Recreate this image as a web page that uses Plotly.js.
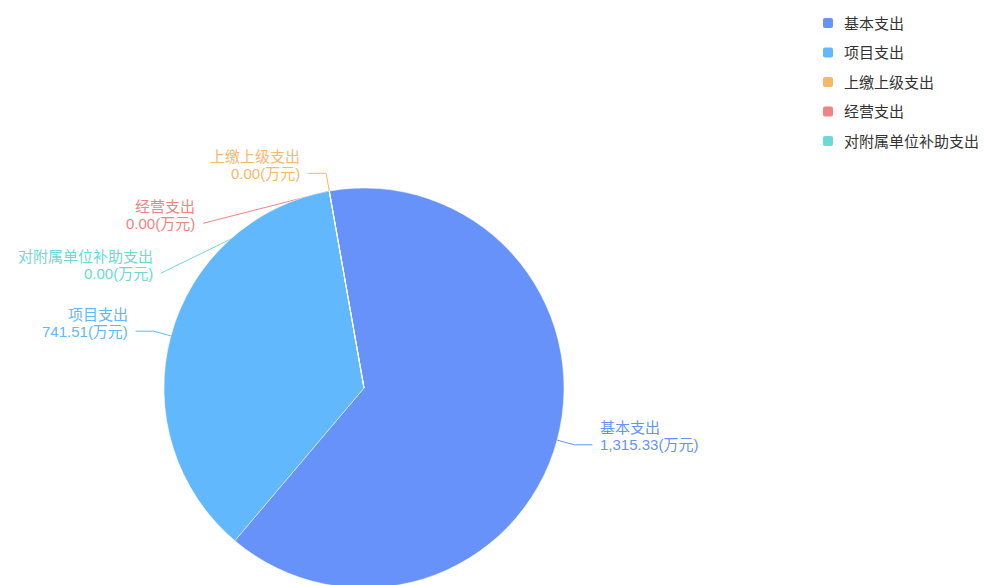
<!DOCTYPE html>
<html>
<head>
<meta charset="utf-8">
<script src="https://cdn.plot.ly/plotly-3.0.1.min.js"></script>
<style>
html,body{margin:0;padding:0;overflow:hidden;background:#fff;}
#chart{width:984px;height:600px;}
</style>
</head>
<body>
<div id="chart"></div>
<script>
// ---- data ----
const categories = ['基本支出', '项目支出', '上缴上级支出', '经营支出', '对附属单位补助支出'];
const values = [1315.33, 741.51, 0.00, 0.00, 0.00];
const colors = ['#6792F9', '#61B8FC', '#F6B86A', '#F08484', '#6DD9D6'];
const unit = '(万元)';

// ---- layout constants ----
const W = 984, H = 600;
const CX = 364, CY = 388, R = 200;
const ROT = -10;            // start angle (deg, clockwise from 12 o'clock)
const LEN1 = 18, LEN2 = 18, GAP = 6, MIN_SPACING = 50, LINE_H = 17;
const FONT = '"Liberation Sans", Arial, "Noto Sans CJK SC", sans-serif';
const LABEL_SIZE = 15;

const px = x => x / W;
const py = y => 1 - y / H;

function fmt(v) {
  const parts = v.toFixed(2).split('.');
  parts[0] = parts[0].replace(/\B(?=(\d{3})+(?!\d))/g, ',');
  return parts.join('.');
}

// ---- label layout (computed from data) ----
const total = values.reduce((a, b) => a + b, 0);
let cum = 0;
const items = values.map((v, i) => {
  const mid = ROT + (cum + v / 2) / total * 360;
  cum += v;
  const a = mid * Math.PI / 180;
  const sx = Math.sin(a), sy = -Math.cos(a);
  const side = sx >= 0 ? 1 : -1;
  return {
    i, mid, side,
    surf: [CX + R * sx, CY + R * sy],
    elbow: [CX + (R + LEN1) * sx, CY + (R + LEN1) * sy],
    y: CY + (R + LEN1) * sy,
    moved: false
  };
});

[1, -1].forEach(side => {
  const list = items.filter(d => d.side === side).sort((a, b) => (a.y - b.y) || (a.i - b.i));
  for (let k = 1; k < list.length; k++) {
    if (list[k].y < list[k - 1].y + MIN_SPACING) {
      list[k].y = list[k - 1].y + MIN_SPACING;
      list[k].moved = true;
    }
  }
});

const shapes = [];
const annotations = [];

items.forEach(d => {
  let endX, pts;
  if (!d.moved) {
    endX = d.elbow[0] + d.side * LEN2;
    pts = [d.surf, d.elbow, [endX, d.y]];
  } else {
    const dy = d.y - CY;
    const rr = R + LEN1;
    const ex = CX + d.side * Math.sqrt(Math.max(rr * rr - dy * dy, 0));
    endX = ex + d.side * LEN2;
    // straight line back to the slice's surface point (the part inside the pie is hidden beneath it)
    pts = [d.surf, [endX, d.y]];
  }
  let path = 'M ' + px(pts[0][0]) + ',' + py(pts[0][1]);
  for (let k = 1; k < pts.length; k++) path += ' L ' + px(pts[k][0]) + ',' + py(pts[k][1]);
  shapes.push({type: 'path', xref: 'paper', yref: 'paper', layer: 'below', path: path,
    line: {color: colors[d.i], width: 1}});

  const tx = endX + d.side * GAP;
  const anchor = d.side === 1 ? 'left' : 'right';
  annotations.push({xref: 'paper', yref: 'paper', x: px(tx), y: py(d.y - LINE_H),
    text: categories[d.i], showarrow: false, xanchor: anchor, yanchor: 'middle',
    font: {family: FONT, size: LABEL_SIZE, color: colors[d.i]}});
  annotations.push({xref: 'paper', yref: 'paper', x: px(tx), y: py(d.y),
    text: fmt(values[d.i]) + unit, showarrow: false, xanchor: anchor, yanchor: 'middle',
    font: {family: FONT, size: LABEL_SIZE, color: colors[d.i]}});
});

// ---- custom legend ----
const LEG_X = 823, LEG_Y0 = 23, LEG_STEP = 29.5, SQ = 10, RC = 2;
categories.forEach((c, i) => {
  const y = LEG_Y0 + i * LEG_STEP;
  const x0 = LEG_X, x1 = LEG_X + SQ, y0 = y - SQ / 2, y1 = y + SQ / 2;
  const p = (x, yy) => px(x) + ',' + py(yy);
  const path = 'M ' + p(x0 + RC, y0) + ' L ' + p(x1 - RC, y0) + ' Q ' + p(x1, y0) + ' ' + p(x1, y0 + RC) +
    ' L ' + p(x1, y1 - RC) + ' Q ' + p(x1, y1) + ' ' + p(x1 - RC, y1) +
    ' L ' + p(x0 + RC, y1) + ' Q ' + p(x0, y1) + ' ' + p(x0, y1 - RC) +
    ' L ' + p(x0, y0 + RC) + ' Q ' + p(x0, y0) + ' ' + p(x0 + RC, y0) + ' Z';
  shapes.push({type: 'path', xref: 'paper', yref: 'paper', path: path,
    fillcolor: colors[i], line: {width: 0}});
  annotations.push({xref: 'paper', yref: 'paper', x: px(LEG_X + SQ + 9), y: py(y),
    text: c, showarrow: false, xanchor: 'left', yanchor: 'middle',
    font: {family: FONT, size: 15, color: '#333'}});
});

const trace = {
  type: 'pie',
  labels: categories,
  values: values,
  marker: {colors: colors, line: {color: '#ffffff', width: 0.5}},
  sort: false,
  direction: 'clockwise',
  rotation: ROT,
  textinfo: 'none',
  hoverinfo: 'label+value+percent',
  showlegend: false,
  domain: {x: [(CX - R) / W, (CX + R) / W], y: [1 - (CY + R) / H, 1 - (CY - R) / H]}
};

const layout = {
  width: W, height: H,
  margin: {l: 0, r: 0, t: 0, b: 0},
  paper_bgcolor: '#ffffff',
  showlegend: false,
  shapes: shapes,
  annotations: annotations,
  font: {family: FONT}
};

Plotly.newPlot('chart', [trace], layout, {displayModeBar: false, responsive: false});
</script>
</body>
</html>
